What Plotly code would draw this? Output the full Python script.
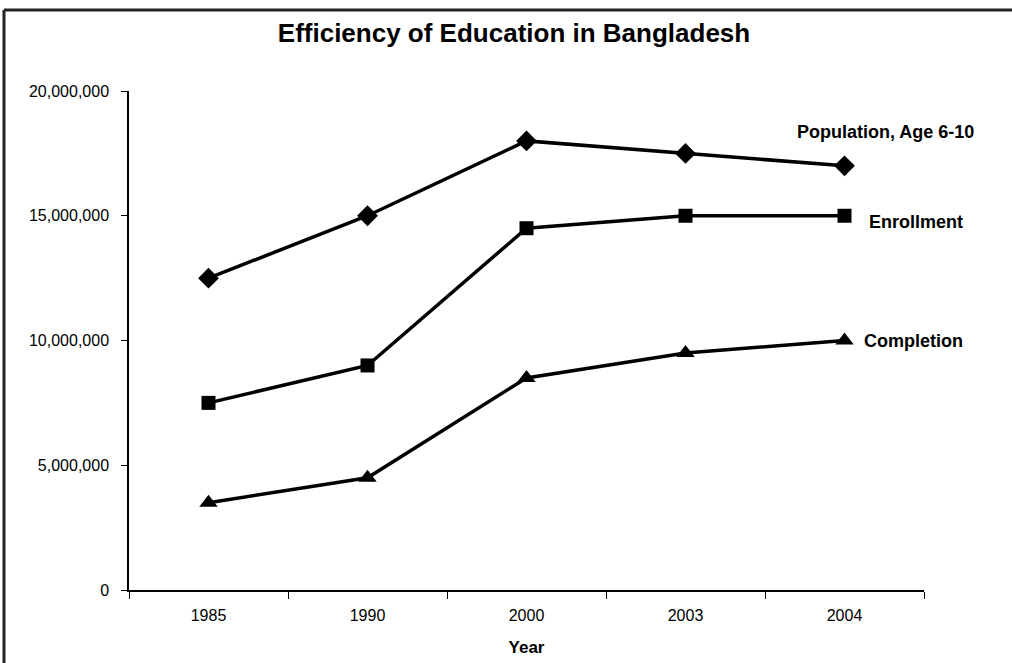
import plotly.graph_objects as go

years = ["1985", "1990", "2000", "2003", "2004"]
population = [12500000, 15000000, 18000000, 17500000, 17000000]
enrollment = [7500000, 9000000, 14500000, 15000000, 15000000]
completion = [3500000, 4500000, 8500000, 9500000, 10000000]

W, H = 1012, 663
L, R, T, B = 129, 88, 91, 73

fig = go.Figure()

series = [
    ("Population, Age 6-10", population, "diamond", 16),
    ("Enrollment", enrollment, "square", 14),
    ("Completion", completion, "triangle-up", 16),
]
for name, vals, sym, sz in series:
    fig.add_trace(go.Scatter(
        x=years, y=vals, name=name, mode="lines+markers",
        line=dict(color="black", width=3.5),
        marker=dict(symbol=sym, size=sz, color="black"),
    ))

# labels next to the last point (category index for annotations)
last = len(years) - 1
fig.add_annotation(x=last, y=population[-1], text="<b>Population, Age 6-10</b>",
                   showarrow=False, xanchor="center", xshift=41, yshift=34,
                   font=dict(size=18))
fig.add_annotation(x=last, y=enrollment[-1], text="<b>Enrollment</b>",
                   showarrow=False, xanchor="left", xshift=22, yshift=-6,
                   font=dict(size=18))
fig.add_annotation(x=last, y=completion[-1], text="<b>Completion</b>",
                   showarrow=False, xanchor="left", xshift=17, yshift=0,
                   font=dict(size=18))

# chart frame (left and top edges visible in the reference)
pw, ph = W - L - R, H - T - B
fx0 = (4 - L) / pw
fy1 = (H - B - 10) / ph
fig.add_shape(type="line", xref="paper", yref="paper",
              x0=fx0, x1=(W + 5 - L) / pw, y0=fy1, y1=fy1,
              line=dict(color="#222", width=3))
fig.add_shape(type="line", xref="paper", yref="paper",
              x0=fx0, x1=fx0, y0=fy1, y1=(H - B - (H + 5)) / ph,
              line=dict(color="#222", width=3))

fig.update_layout(
    width=W, height=H,
    margin=dict(l=L, r=R, t=T, b=B),
    paper_bgcolor="white", plot_bgcolor="white",
    showlegend=False,
    font=dict(family="Liberation Sans, Arial, sans-serif", color="black", size=16),
    title=dict(text="<b>Efficiency of Education in Bangladesh</b>", x=(514 - L) / pw,
               xref="paper", xanchor="center",
               y=1 - 33 / H, yanchor="middle", font=dict(size=26)),
)
fig.update_xaxes(
    type="category", range=[-0.5, 4.5], automargin=False,
    showline=True, linecolor="black", linewidth=1.5,
    ticks="outside", tickson="boundaries", ticklen=7, tickcolor="black",
    showgrid=False, tickfont=dict(size=16), ticklabelstandoff=10,
    title=dict(text="<b>Year</b>", font=dict(size=17), standoff=18),
)
fig.update_yaxes(
    range=[0, 20000000], dtick=5000000, tickformat=",d", automargin=False,
    showline=True, linecolor="black", linewidth=1.5,
    ticks="outside", ticklen=6, tickcolor="black",
    showgrid=False, zeroline=False, tickfont=dict(size=16), ticklabelstandoff=9,
)

fig.write_html("out.html", config={"displayModeBar": False},
               post_script="document.body.style.margin='0';")
